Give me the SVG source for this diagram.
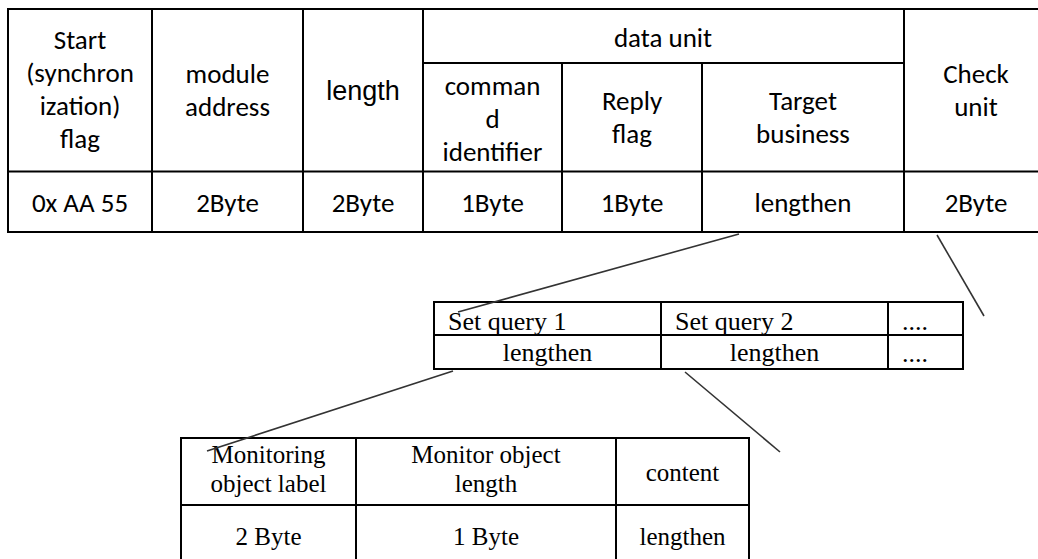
<svg xmlns="http://www.w3.org/2000/svg" width="1038" height="559" viewBox="0 0 1038 559">
<style>
.b{fill:#fff;stroke:#000;stroke-width:2}
.ln{stroke:#000;stroke-width:2;fill:none}
.c{font-family:Carlito,Calibri,"Open Sans","Liberation Sans",sans-serif;font-size:27px;fill:#000;text-anchor:middle}
.a{font-family:"Liberation Sans",Arial,sans-serif;font-size:27px;fill:#000;text-anchor:middle}
.t{font-family:"Liberation Serif","Times New Roman",serif;font-size:25px;fill:#000}
.q{font-size:26px}
.m{text-anchor:middle}
.k{stroke:#333;stroke-width:1.6;fill:none}
</style>
<rect width="1038" height="559" fill="#fff"/>
<g id="frame-table">
<rect class="b" x="8" y="9" width="1040" height="223"/>
<path class="ln" d="M152 9V232M303 9V232M423 9V232M904 9V232M562 63V232M702 63V232M423 63H904M8 171.5H1048"/>
<text class="c" x="80" y="49">Start</text>
<text class="c" x="80" y="82">(synchron</text>
<text class="c" x="80" y="115">ization)</text>
<text class="c" x="80" y="148">flag</text>
<text class="c" x="227.5" y="83">module</text>
<text class="c" x="227.5" y="116">address</text>
<text class="a" x="363" y="100">length</text>
<text class="c" x="663" y="47">data unit</text>
<text class="c" x="492.5" y="95">comman</text>
<text class="c" x="492.5" y="128">d</text>
<text class="c" x="492.5" y="161">identifier</text>
<text class="c" x="632" y="110">Reply</text>
<text class="c" x="632" y="143">flag</text>
<text class="c" x="803" y="110">Target</text>
<text class="c" x="803" y="143">business</text>
<text class="c" x="976" y="83">Check</text>
<text class="c" x="976" y="116">unit</text>
<text class="c" x="80" y="212">0x AA 55</text>
<text class="c" x="227.5" y="212">2Byte</text>
<text class="c" x="363" y="212">2Byte</text>
<text class="c" x="492.5" y="212">1Byte</text>
<text class="c" x="632" y="212">1Byte</text>
<text class="c" x="803" y="212">lengthen</text>
<text class="c" x="976" y="212">2Byte</text>
</g>
<g id="query-table">
<rect class="b" x="434" y="302" width="529" height="67"/>
<path class="ln" d="M661 302V369M888 302V369M434 335H963"/>
<text class="t q" x="448" y="330">Set query 1</text>
<text class="t q" x="675" y="330">Set query 2</text>
<text class="t q" x="902" y="330">....</text>
<text class="t q m" x="547.5" y="361">lengthen</text>
<text class="t q m" x="774.5" y="361">lengthen</text>
<text class="t q" x="902" y="362">....</text>
</g>
<g id="object-table">
<rect class="b" x="181" y="438" width="568" height="130"/>
<path class="ln" d="M356 438V568M616 438V568M181 505H749"/>
<text class="t m" x="268.5" y="463">Monitoring</text>
<text class="t m" x="268.5" y="492">object label</text>
<text class="t m" x="486" y="463">Monitor object</text>
<text class="t m" x="486" y="492">length</text>
<text class="t m" x="682.5" y="481">content</text>
<text class="t m" x="268.5" y="545">2 Byte</text>
<text class="t m" x="486" y="545">1 Byte</text>
<text class="t m" x="682.5" y="545">lengthen</text>
</g>
<g id="connectors">
<line class="k" x1="739" y1="234" x2="458" y2="312"/>
<line class="k" x1="937" y1="235" x2="984" y2="316"/>
<line class="k" x1="453" y1="371" x2="207" y2="451"/>
<line class="k" x1="685" y1="372" x2="780" y2="452"/>
</g>
</svg>
